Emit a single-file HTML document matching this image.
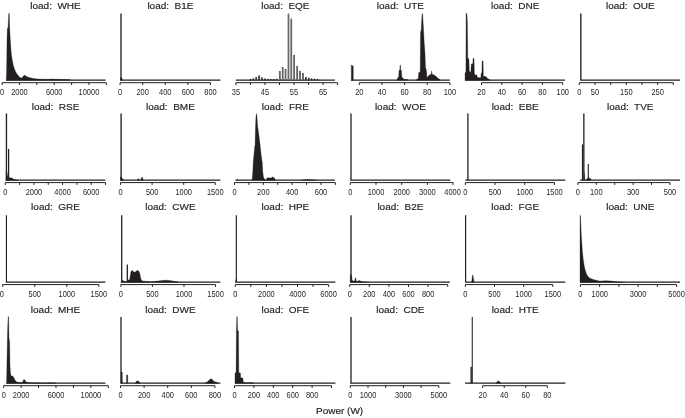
<!DOCTYPE html>
<html><head><meta charset="utf-8"><title>Load power histograms</title>
<style>
html,body{margin:0;padding:0;background:#fff;}
svg{display:block;}
text{font-family:"Liberation Sans",sans-serif;fill:#231f20;text-anchor:middle;}
.tt{white-space:pre;font-size:9.7px;stroke:#231f20;stroke-width:0.18px;}
.tl{font-size:8.2px;}
.ax{stroke:#231f20;stroke-width:1.0;fill:none;}
.bl{stroke:#231f20;fill:none;}
path.bl:not([stroke-width]){stroke-width:1.25;}
.hs{fill:#231f20;stroke:#231f20;stroke-width:0.3;stroke-linejoin:round;}
.sp{stroke:#231f20;fill:none;}
.bar{fill:#d0cfcf;stroke:#231f20;stroke-width:0.62;}
.sb{fill:#231f20;}
</style></head>
<body>
<svg width="685" height="418" viewBox="0 0 685 418">
<rect width="685" height="418" fill="#fff"/>
<text transform="translate(55.50 8.55) scale(1.03 1)" class="tt" xml:space="preserve">load:  WHE</text>
<path d="M6.20 80.10H105.60" class="bl"/>
<path d="M6.30 80.30L6.30 80.00L6.60 70.00L7.00 40.00L7.30 29.00L8.10 27.00L8.70 13.60L9.35 13.60L9.70 29.00L10.10 36.00L10.40 41.00L10.80 47.00L11.30 53.50L12.10 59.00L13.10 64.40L14.20 68.30L15.50 71.60L16.80 73.80L18.20 75.60L19.50 77.00L20.90 78.00L22.00 78.00L23.20 76.30L24.50 74.90L25.60 75.80L27.00 76.70L29.10 77.50L33.50 78.40L38.00 79.00L45.00 79.30L52.00 79.10L58.00 79.30L70.00 79.50L70.00 80.30Z" class="hs"/>
<path d="M2.10 82.70H106.32" class="ax"/>
<path d="M2.10 82.70v2.3M19.47 82.70v2.3M36.84 82.70v2.3M54.21 82.70v2.3M71.58 82.70v2.3M88.95 82.70v2.3M106.32 82.70v2.3" class="ax"/>
<text transform="translate(2.10 94.75) scale(0.91 1)" class="tl">0</text>
<text transform="translate(19.47 94.75) scale(0.91 1)" class="tl">2000</text>
<text transform="translate(54.21 94.75) scale(0.91 1)" class="tl">6000</text>
<text transform="translate(88.95 94.75) scale(0.91 1)" class="tl">10000</text>
<text transform="translate(170.40 8.55) scale(1.03 1)" class="tt" xml:space="preserve">load:  B1E</text>
<path d="M120.30 80.10H220.40" class="bl"/>
<path d="M121.00 13.50V80.30" stroke-width="1.35" class="sp"/>
<path d="M120.40 80.30L120.40 77.50L121.80 78.00L122.60 79.50L122.60 80.30Z" class="hs"/>
<path d="M120.05 82.70H210.45" class="ax"/>
<path d="M120.05 82.70v2.3M142.65 82.70v2.3M165.25 82.70v2.3M187.85 82.70v2.3M210.45 82.70v2.3" class="ax"/>
<text transform="translate(120.05 94.75) scale(0.91 1)" class="tl">0</text>
<text transform="translate(142.65 94.75) scale(0.91 1)" class="tl">200</text>
<text transform="translate(165.25 94.75) scale(0.91 1)" class="tl">400</text>
<text transform="translate(187.85 94.75) scale(0.91 1)" class="tl">600</text>
<text transform="translate(210.45 94.75) scale(0.91 1)" class="tl">800</text>
<text transform="translate(285.40 8.55) scale(1.03 1)" class="tt" xml:space="preserve">load:  EQE</text>
<path d="M235.90 80.10H334.90" class="bl"/>
<rect x="255.80" y="77.28" width="0.9" height="2.80" class="bar sb"/>
<rect x="258.70" y="75.78" width="0.9" height="4.30" class="bar sb"/>
<rect x="261.60" y="77.78" width="0.9" height="2.30" class="bar sb"/>
<rect x="264.50" y="78.88" width="0.9" height="1.20" class="bar sb"/>
<rect x="252.90" y="78.78" width="0.9" height="1.30" class="bar sb"/>
<rect x="250.00" y="79.28" width="0.9" height="0.80" class="bar sb"/>
<rect x="267.40" y="79.28" width="0.9" height="0.80" class="bar sb"/>
<rect x="270.30" y="79.28" width="0.9" height="0.80" class="bar sb"/>
<rect x="273.20" y="79.28" width="0.9" height="0.80" class="bar sb"/>
<rect x="276.20" y="79.08" width="0.9" height="1.00" class="bar sb"/>
<rect x="279.30" y="71.68" width="0.9" height="8.40" class="bar"/>
<rect x="282.20" y="67.38" width="0.9" height="12.70" class="bar"/>
<rect x="285.10" y="69.38" width="0.9" height="10.70" class="bar"/>
<rect x="288.05" y="13.98" width="0.9" height="66.10" class="bar"/>
<rect x="290.90" y="18.98" width="0.9" height="61.10" class="bar"/>
<rect x="293.80" y="55.58" width="0.9" height="24.50" class="bar"/>
<rect x="296.80" y="66.18" width="0.9" height="13.90" class="bar"/>
<rect x="299.60" y="71.18" width="0.9" height="8.90" class="bar"/>
<rect x="302.50" y="73.58" width="0.9" height="6.50" class="bar"/>
<rect x="305.40" y="77.38" width="0.9" height="2.70" class="bar sb"/>
<rect x="308.30" y="78.08" width="0.9" height="2.00" class="bar sb"/>
<rect x="311.20" y="78.78" width="0.9" height="1.30" class="bar sb"/>
<rect x="314.10" y="79.08" width="0.9" height="1.00" class="bar sb"/>
<rect x="317.00" y="79.28" width="0.9" height="0.80" class="bar sb"/>
<path d="M235.90 82.70H337.61" class="ax"/>
<path d="M235.90 82.70v2.3M250.43 82.70v2.3M264.96 82.70v2.3M279.49 82.70v2.3M294.02 82.70v2.3M308.55 82.70v2.3M323.08 82.70v2.3M337.61 82.70v2.3" class="ax"/>
<text transform="translate(235.90 94.75) scale(0.91 1)" class="tl">35</text>
<text transform="translate(264.96 94.75) scale(0.91 1)" class="tl">45</text>
<text transform="translate(294.02 94.75) scale(0.91 1)" class="tl">55</text>
<text transform="translate(323.08 94.75) scale(0.91 1)" class="tl">65</text>
<text transform="translate(400.40 8.55) scale(1.03 1)" class="tt" xml:space="preserve">load:  UTE</text>
<path d="M351.00 80.10H449.90" class="bl"/>
<path d="M351.30 80.30L351.30 65.20L352.00 65.00L352.80 65.90L353.30 66.40L353.30 80.30Z" class="hs"/>
<path d="M397.00 80.30L397.00 79.50L397.80 77.60L398.70 77.30L399.00 70.40L399.80 70.20L400.00 65.00L400.45 65.00L400.70 70.20L401.50 70.60L401.80 77.30L402.70 77.80L403.80 79.30L408.00 79.60L408.00 80.30Z" class="hs"/>
<path d="M416.50 80.30L416.50 79.60L418.20 78.50L418.70 72.40L420.20 72.20L420.50 32.00L421.20 30.00L421.80 18.00L422.10 13.70L422.60 13.70L423.00 20.00L423.50 29.00L424.10 40.70L425.00 53.50L425.50 67.50L426.50 70.50L426.90 77.50L428.00 76.50L429.00 75.20L430.50 74.40L431.30 74.20L431.50 71.20L431.90 71.20L432.10 74.30L433.50 74.70L435.00 75.50L436.50 76.80L438.20 78.60L440.00 79.60L440.00 80.30Z" class="hs"/>
<path d="M359.30 82.70H449.90" class="ax"/>
<path d="M359.30 82.70v2.3M381.95 82.70v2.3M404.60 82.70v2.3M427.25 82.70v2.3M449.90 82.70v2.3" class="ax"/>
<text transform="translate(359.30 94.75) scale(0.91 1)" class="tl">20</text>
<text transform="translate(381.95 94.75) scale(0.91 1)" class="tl">40</text>
<text transform="translate(404.60 94.75) scale(0.91 1)" class="tl">60</text>
<text transform="translate(427.25 94.75) scale(0.91 1)" class="tl">80</text>
<text transform="translate(449.90 94.75) scale(0.91 1)" class="tl">100</text>
<text transform="translate(515.20 8.55) scale(1.03 1)" class="tt" xml:space="preserve">load:  DNE</text>
<path d="M465.00 80.10H564.90" class="bl"/>
<path d="M465.00 80.30L465.00 73.00L465.90 72.00L466.10 13.50L466.90 13.50L467.40 22.00L467.80 58.50L468.90 58.70L469.30 71.00L470.80 72.50L471.30 64.00L472.80 63.70L473.10 58.30L474.00 58.30L474.40 74.00L475.40 75.50L476.00 74.50L476.80 75.00L477.50 77.50L480.80 77.80L481.20 73.00L481.90 73.00L482.10 60.90L483.10 60.90L483.40 76.50L485.00 76.20L486.50 77.00L487.50 78.50L489.50 79.40L489.50 80.30Z" class="hs"/>
<path d="M481.50 82.70H562.70" class="ax"/>
<path d="M481.50 82.70v2.3M501.80 82.70v2.3M522.10 82.70v2.3M542.40 82.70v2.3M562.70 82.70v2.3" class="ax"/>
<text transform="translate(481.50 94.75) scale(0.91 1)" class="tl">20</text>
<text transform="translate(501.80 94.75) scale(0.91 1)" class="tl">40</text>
<text transform="translate(522.10 94.75) scale(0.91 1)" class="tl">60</text>
<text transform="translate(542.40 94.75) scale(0.91 1)" class="tl">80</text>
<text transform="translate(562.70 94.75) scale(0.91 1)" class="tl">100</text>
<text transform="translate(630.30 8.55) scale(1.03 1)" class="tt" xml:space="preserve">load:  OUE</text>
<path d="M580.30 80.10H680.00" class="bl"/>
<path d="M580.85 13.50V80.30" stroke-width="1.35" class="sp"/>
<path d="M579.30 82.70H673.32" class="ax"/>
<path d="M579.30 82.70v2.3M594.97 82.70v2.3M610.64 82.70v2.3M626.31 82.70v2.3M641.98 82.70v2.3M657.65 82.70v2.3M673.32 82.70v2.3" class="ax"/>
<text transform="translate(579.30 94.75) scale(0.91 1)" class="tl">0</text>
<text transform="translate(594.97 94.75) scale(0.91 1)" class="tl">50</text>
<text transform="translate(626.31 94.75) scale(0.91 1)" class="tl">150</text>
<text transform="translate(657.65 94.75) scale(0.91 1)" class="tl">250</text>
<text transform="translate(55.50 110.00) scale(1.03 1)" class="tt" xml:space="preserve">load:  RSE</text>
<path d="M5.60 180.10H105.40" class="bl"/>
<path d="M6.45 113.50V180.30" stroke-width="1.35" class="sp"/>
<path d="M8.60 148.90V180.30" stroke-width="1.25" class="sp"/>
<path d="M6.00 180.30L6.00 170.30L7.10 172.30L7.60 176.30L8.30 176.80L9.20 177.70L11.50 177.90L12.60 178.30L13.50 179.30L16.00 179.80L18.00 180.00L18.00 180.30Z" class="hs"/>
<path d="M5.30 182.60H105.54" class="ax"/>
<path d="M5.30 182.60v2.3M19.62 182.60v2.3M33.94 182.60v2.3M48.26 182.60v2.3M62.58 182.60v2.3M76.90 182.60v2.3M91.22 182.60v2.3M105.54 182.60v2.3" class="ax"/>
<text transform="translate(5.30 194.90) scale(0.91 1)" class="tl">0</text>
<text transform="translate(33.94 194.90) scale(0.91 1)" class="tl">2000</text>
<text transform="translate(62.58 194.90) scale(0.91 1)" class="tl">4000</text>
<text transform="translate(91.22 194.90) scale(0.91 1)" class="tl">6000</text>
<text transform="translate(170.40 110.00) scale(1.03 1)" class="tt" xml:space="preserve">load:  BME</text>
<path d="M120.30 180.10H220.40" class="bl"/>
<path d="M121.10 113.50V180.30" stroke-width="1.35" class="sp"/>
<path d="M120.40 180.30L120.40 176.80L121.60 177.30L122.20 178.50L123.50 179.60L123.50 180.30Z" class="hs"/>
<path d="M137.60 180.30L137.60 179.70L138.20 178.70L138.80 178.80L139.40 179.70L139.40 180.30Z" class="hs"/>
<path d="M141.00 180.30L141.00 179.60L141.40 177.50L142.60 177.50L143.00 179.60L143.00 180.30Z" class="hs"/>
<path d="M120.55 182.60H215.26" class="ax"/>
<path d="M120.55 182.60v2.3M152.12 182.60v2.3M183.69 182.60v2.3M215.26 182.60v2.3" class="ax"/>
<text transform="translate(120.55 194.90) scale(0.91 1)" class="tl">0</text>
<text transform="translate(152.12 194.90) scale(0.91 1)" class="tl">500</text>
<text transform="translate(183.69 194.90) scale(0.91 1)" class="tl">1000</text>
<text transform="translate(215.26 194.90) scale(0.91 1)" class="tl">1500</text>
<text transform="translate(285.40 110.00) scale(1.03 1)" class="tt" xml:space="preserve">load:  FRE</text>
<path d="M235.50 180.10H334.90" class="bl"/>
<path d="M237.20 180.30L237.20 179.90L237.50 179.10L237.90 179.90L237.90 180.30Z" class="hs"/>
<path d="M251.80 180.30L251.80 179.90L252.30 178.30L252.80 171.90L253.20 162.80L254.00 153.80L254.80 146.30L255.10 144.70L255.40 130.04L255.80 118.98L256.10 116.04L256.30 113.70L256.70 113.70L257.10 118.47L257.70 126.39L259.20 137.30L260.10 144.70L261.00 153.80L262.30 162.80L262.80 171.90L263.50 177.30L264.20 178.60L265.20 179.80L265.20 180.30Z" class="hs"/>
<path d="M266.30 180.30L266.30 179.80L266.90 178.10L268.50 177.80L270.00 178.00L271.50 177.70L272.80 176.80L273.50 177.50L274.40 177.90L275.20 179.60L275.20 180.30Z" class="hs"/>
<path d="M302.00 180.30L302.00 180.10L305.00 179.80L308.00 179.60L312.00 179.80L316.00 180.10L316.00 180.30Z" class="hs"/>
<path d="M234.50 182.60H335.37" class="ax"/>
<path d="M234.50 182.60v2.3M248.91 182.60v2.3M263.32 182.60v2.3M277.73 182.60v2.3M292.14 182.60v2.3M306.55 182.60v2.3M320.96 182.60v2.3M335.37 182.60v2.3" class="ax"/>
<text transform="translate(234.50 194.90) scale(0.91 1)" class="tl">0</text>
<text transform="translate(263.32 194.90) scale(0.91 1)" class="tl">200</text>
<text transform="translate(292.14 194.90) scale(0.91 1)" class="tl">400</text>
<text transform="translate(320.96 194.90) scale(0.91 1)" class="tl">600</text>
<text transform="translate(400.40 110.00) scale(1.03 1)" class="tt" xml:space="preserve">load:  WOE</text>
<path d="M350.30 180.10H450.30" class="bl"/>
<path d="M351.00 113.50V180.30" stroke-width="1.3" class="sp"/>
<path d="M350.30 182.60H453.10" class="ax"/>
<path d="M350.30 182.60v2.3M376.00 182.60v2.3M401.70 182.60v2.3M427.40 182.60v2.3M453.10 182.60v2.3" class="ax"/>
<text transform="translate(350.30 194.90) scale(0.91 1)" class="tl">0</text>
<text transform="translate(376.00 194.90) scale(0.91 1)" class="tl">1000</text>
<text transform="translate(401.70 194.90) scale(0.91 1)" class="tl">2000</text>
<text transform="translate(427.40 194.90) scale(0.91 1)" class="tl">3000</text>
<text transform="translate(452.60 194.90) scale(0.91 1)" class="tl">4000</text>
<text transform="translate(515.20 110.00) scale(1.03 1)" class="tt" xml:space="preserve">load:  EBE</text>
<path d="M465.30 180.10H565.30" class="bl"/>
<path d="M467.90 113.50V180.30" stroke-width="1.3" class="sp"/>
<path d="M465.30 182.60H554.46" class="ax"/>
<path d="M465.30 182.60v2.3M495.02 182.60v2.3M524.74 182.60v2.3M554.46 182.60v2.3" class="ax"/>
<text transform="translate(465.30 194.90) scale(0.91 1)" class="tl">0</text>
<text transform="translate(495.02 194.90) scale(0.91 1)" class="tl">500</text>
<text transform="translate(524.74 194.90) scale(0.91 1)" class="tl">1000</text>
<text transform="translate(554.46 194.90) scale(0.91 1)" class="tl">1500</text>
<text transform="translate(630.30 110.00) scale(1.03 1)" class="tt" xml:space="preserve">load:  TVE</text>
<path d="M580.10 180.10H680.00" class="bl"/>
<path d="M582.55 144.40V180.30" stroke-width="1.3" class="sp"/>
<path d="M583.85 113.50V180.30" stroke-width="1.3" class="sp"/>
<path d="M588.30 164.00V180.30" stroke-width="1.1" class="sp"/>
<path d="M586.60 180.30L586.60 179.90L587.20 178.20L590.50 178.20L591.00 179.90L591.00 180.30Z" class="hs"/>
<path d="M584.30 180.30L584.30 172.30L584.90 178.30L584.90 180.30Z" class="hs"/>
<path d="M577.90 182.60H670.00" class="ax"/>
<path d="M577.90 182.60v2.3M596.32 182.60v2.3M614.74 182.60v2.3M633.16 182.60v2.3M651.58 182.60v2.3M670.00 182.60v2.3" class="ax"/>
<text transform="translate(577.90 194.90) scale(0.91 1)" class="tl">0</text>
<text transform="translate(596.32 194.90) scale(0.91 1)" class="tl">100</text>
<text transform="translate(633.16 194.90) scale(0.91 1)" class="tl">300</text>
<text transform="translate(670.00 194.90) scale(0.91 1)" class="tl">500</text>
<text transform="translate(55.50 210.35) scale(1.03 1)" class="tt" xml:space="preserve">load:  GRE</text>
<path d="M5.90 282.10H105.40" class="bl"/>
<path d="M6.45 215.30V282.30" stroke-width="1.15" class="sp"/>
<path d="M2.70 284.60H98.85" class="ax"/>
<path d="M2.70 284.60v2.3M34.75 284.60v2.3M66.80 284.60v2.3M98.85 284.60v2.3" class="ax"/>
<text transform="translate(1.70 296.65) scale(0.91 1)" class="tl">0</text>
<text transform="translate(34.75 296.65) scale(0.91 1)" class="tl">500</text>
<text transform="translate(66.80 296.65) scale(0.91 1)" class="tl">1000</text>
<text transform="translate(98.85 296.65) scale(0.91 1)" class="tl">1500</text>
<text transform="translate(170.40 210.35) scale(1.03 1)" class="tt" xml:space="preserve">load:  CWE</text>
<path d="M120.80 282.10H220.40" class="bl"/>
<path d="M121.70 215.30V282.30" stroke-width="1.3" class="sp"/>
<path d="M127.30 264.50V282.30" stroke-width="1.3" class="sp"/>
<path d="M122.30 282.30L122.30 279.90L124.00 281.20L126.50 281.40L126.50 282.30Z" class="hs"/>
<path d="M128.00 282.30L128.00 280.00L129.60 279.70L130.30 275.40L130.90 271.90L131.60 270.70L132.40 270.50L133.30 271.60L134.50 272.30L135.80 271.60L136.80 270.70L137.50 270.30L138.30 270.70L139.40 271.90L140.10 274.90L140.80 278.60L141.60 280.20L142.60 280.90L146.00 281.40L150.00 281.60L150.00 282.30Z" class="hs"/>
<path d="M151.00 282.30L151.00 281.70L156.00 281.20L160.00 280.70L164.00 280.30L166.50 280.25L170.00 280.60L174.00 281.30L178.00 281.80L178.00 282.30Z" class="hs"/>
<path d="M120.85 284.60H215.56" class="ax"/>
<path d="M120.85 284.60v2.3M152.42 284.60v2.3M183.99 284.60v2.3M215.56 284.60v2.3" class="ax"/>
<text transform="translate(120.85 296.65) scale(0.91 1)" class="tl">0</text>
<text transform="translate(152.42 296.65) scale(0.91 1)" class="tl">500</text>
<text transform="translate(183.99 296.65) scale(0.91 1)" class="tl">1000</text>
<text transform="translate(215.56 296.65) scale(0.91 1)" class="tl">1500</text>
<text transform="translate(285.40 210.35) scale(1.03 1)" class="tt" xml:space="preserve">load:  HPE</text>
<path d="M235.40 282.10H335.30" class="bl"/>
<path d="M236.35 215.30V282.30" stroke-width="1.15" class="sp"/>
<path d="M235.70 282.30L235.70 279.70L236.40 279.70L236.40 282.30Z" class="hs"/>
<path d="M235.30 284.60H328.60" class="ax"/>
<path d="M235.30 284.60v2.3M250.85 284.60v2.3M266.40 284.60v2.3M281.95 284.60v2.3M297.50 284.60v2.3M313.05 284.60v2.3M328.60 284.60v2.3" class="ax"/>
<text transform="translate(235.30 296.65) scale(0.91 1)" class="tl">0</text>
<text transform="translate(266.40 296.65) scale(0.91 1)" class="tl">2000</text>
<text transform="translate(297.50 296.65) scale(0.91 1)" class="tl">4000</text>
<text transform="translate(328.60 296.65) scale(0.91 1)" class="tl">6000</text>
<text transform="translate(400.40 210.35) scale(1.03 1)" class="tt" xml:space="preserve">load:  B2E</text>
<path d="M350.20 282.10H449.90" class="bl"/>
<path d="M351.00 215.30V282.30" stroke-width="1.35" class="sp"/>
<path d="M350.30 282.30L350.30 274.40L351.60 275.40L352.00 279.40L353.00 280.90L354.80 281.00L355.10 278.10L355.80 278.10L356.10 281.00L358.30 281.20L359.00 280.40L360.00 280.60L361.00 281.50L365.00 281.90L369.00 282.20L369.00 282.30Z" class="hs"/>
<path d="M349.70 284.60H447.70" class="ax"/>
<path d="M349.70 284.60v2.3M369.30 284.60v2.3M388.90 284.60v2.3M408.50 284.60v2.3M428.10 284.60v2.3M447.70 284.60v2.3" class="ax"/>
<text transform="translate(349.70 296.65) scale(0.91 1)" class="tl">0</text>
<text transform="translate(369.30 296.65) scale(0.91 1)" class="tl">200</text>
<text transform="translate(388.90 296.65) scale(0.91 1)" class="tl">400</text>
<text transform="translate(408.50 296.65) scale(0.91 1)" class="tl">600</text>
<text transform="translate(428.10 296.65) scale(0.91 1)" class="tl">800</text>
<text transform="translate(515.20 210.35) scale(1.03 1)" class="tt" xml:space="preserve">load:  FGE</text>
<path d="M465.20 282.10H565.30" class="bl"/>
<path d="M465.60 215.30V282.30" stroke-width="1.2" class="sp"/>
<path d="M471.70 282.30L471.70 281.40L472.20 277.40L472.55 275.00L472.95 275.00L473.40 277.90L474.00 281.40L474.00 282.30Z" class="hs"/>
<path d="M465.30 284.60H552.81" class="ax"/>
<path d="M465.30 284.60v2.3M494.47 284.60v2.3M523.64 284.60v2.3M552.81 284.60v2.3" class="ax"/>
<text transform="translate(465.30 296.65) scale(0.91 1)" class="tl">0</text>
<text transform="translate(494.47 296.65) scale(0.91 1)" class="tl">500</text>
<text transform="translate(523.64 296.65) scale(0.91 1)" class="tl">1000</text>
<text transform="translate(552.81 296.65) scale(0.91 1)" class="tl">1500</text>
<text transform="translate(630.30 210.35) scale(1.03 1)" class="tt" xml:space="preserve">load:  UNE</text>
<path d="M580.00 282.10H680.00" class="bl"/>
<path d="M580.00 282.30L580.00 215.61L580.45 215.40L580.95 227.03L581.40 236.40L581.90 244.00L582.50 252.40L583.20 258.80L584.00 264.40L584.90 268.90L586.10 272.90L587.50 275.80L589.50 278.00L592.50 279.30L596.00 280.20L599.40 280.90L602.00 281.10L604.00 280.75L607.00 280.65L610.30 280.90L615.00 281.50L620.40 282.00L625.00 282.30L625.00 282.30Z" class="hs"/>
<path d="M580.40 284.60H676.60" class="ax"/>
<path d="M580.40 284.60v2.3M599.64 284.60v2.3M618.88 284.60v2.3M638.12 284.60v2.3M657.36 284.60v2.3M676.60 284.60v2.3" class="ax"/>
<text transform="translate(580.40 296.65) scale(0.91 1)" class="tl">0</text>
<text transform="translate(599.64 296.65) scale(0.91 1)" class="tl">1000</text>
<text transform="translate(638.12 296.65) scale(0.91 1)" class="tl">3000</text>
<text transform="translate(676.60 296.65) scale(0.91 1)" class="tl">5000</text>
<text transform="translate(55.50 312.65) scale(1.03 1)" class="tt" xml:space="preserve">load:  MHE</text>
<path d="M6.20 383.15H105.40" class="bl"/>
<path d="M6.60 383.35L6.60 382.15L6.90 365.15L7.50 333.12L8.10 316.70L8.60 316.70L9.00 338.15L9.60 341.15L10.00 365.15L10.40 371.95L10.90 375.75L12.30 375.95L13.30 376.65L14.30 378.65L15.50 380.65L16.80 382.05L19.00 382.55L22.50 382.35L23.20 380.65L24.00 379.15L24.80 379.95L25.80 381.85L28.00 382.45L33.00 382.85L45.00 382.95L50.00 382.75L56.00 383.05L56.00 383.35Z" class="hs"/>
<path d="M3.70 385.70H108.28" class="ax"/>
<path d="M3.70 385.70v2.3M21.13 385.70v2.3M38.56 385.70v2.3M55.99 385.70v2.3M73.42 385.70v2.3M90.85 385.70v2.3M108.28 385.70v2.3" class="ax"/>
<text transform="translate(3.70 398.20) scale(0.91 1)" class="tl">0</text>
<text transform="translate(21.13 398.20) scale(0.91 1)" class="tl">2000</text>
<text transform="translate(55.99 398.20) scale(0.91 1)" class="tl">6000</text>
<text transform="translate(90.85 398.20) scale(0.91 1)" class="tl">10000</text>
<text transform="translate(170.40 312.65) scale(1.03 1)" class="tt" xml:space="preserve">load:  DWE</text>
<path d="M120.40 383.15H220.40" class="bl"/>
<path d="M121.00 316.90V383.35" stroke-width="1.3" class="sp"/>
<path d="M121.00 383.35L121.00 371.95L122.25 371.95L122.40 382.65L122.40 383.35Z" class="hs"/>
<path d="M126.50 383.35L126.50 374.95L127.80 374.95L127.80 383.35Z" class="hs"/>
<path d="M135.50 383.35L135.50 382.65L136.50 381.35L137.50 380.65L138.60 381.15L140.00 382.65L140.00 383.35Z" class="hs"/>
<path d="M205.00 383.35L205.00 382.85L207.00 381.95L208.50 380.85L210.00 379.25L211.00 378.65L212.00 379.15L213.50 380.95L215.50 381.95L218.00 382.65L218.00 383.35Z" class="hs"/>
<path d="M120.50 385.70H214.90" class="ax"/>
<path d="M120.50 385.70v2.3M144.10 385.70v2.3M167.70 385.70v2.3M191.30 385.70v2.3M214.90 385.70v2.3" class="ax"/>
<text transform="translate(120.50 398.20) scale(0.91 1)" class="tl">0</text>
<text transform="translate(144.10 398.20) scale(0.91 1)" class="tl">200</text>
<text transform="translate(167.70 398.20) scale(0.91 1)" class="tl">400</text>
<text transform="translate(191.30 398.20) scale(0.91 1)" class="tl">600</text>
<text transform="translate(214.90 398.20) scale(0.91 1)" class="tl">800</text>
<text transform="translate(285.40 312.65) scale(1.03 1)" class="tt" xml:space="preserve">load:  OFE</text>
<path d="M234.90 383.15H335.40" class="bl"/>
<path d="M235.00 383.35L235.00 372.95L236.10 372.55L236.40 330.10L236.80 316.70L237.30 316.70L237.60 330.10L238.50 331.11L238.80 372.55L240.40 372.95L240.70 377.65L242.90 377.95L243.20 381.95L245.50 382.85L248.00 382.75L251.00 382.45L254.00 382.95L254.00 383.35Z" class="hs"/>
<path d="M234.50 385.70H331.50" class="ax"/>
<path d="M234.50 385.70v2.3M253.90 385.70v2.3M273.30 385.70v2.3M292.70 385.70v2.3M312.10 385.70v2.3M331.50 385.70v2.3" class="ax"/>
<text transform="translate(234.50 398.20) scale(0.91 1)" class="tl">0</text>
<text transform="translate(253.90 398.20) scale(0.91 1)" class="tl">200</text>
<text transform="translate(273.30 398.20) scale(0.91 1)" class="tl">400</text>
<text transform="translate(292.70 398.20) scale(0.91 1)" class="tl">600</text>
<text transform="translate(312.10 398.20) scale(0.91 1)" class="tl">800</text>
<text transform="translate(400.40 312.65) scale(1.03 1)" class="tt" xml:space="preserve">load:  CDE</text>
<path d="M350.30 383.15H450.30" class="bl"/>
<path d="M351.00 316.90V383.35" stroke-width="1.3" class="sp"/>
<path d="M350.30 385.70H438.80" class="ax"/>
<path d="M350.30 385.70v2.3M368.00 385.70v2.3M385.70 385.70v2.3M403.40 385.70v2.3M421.10 385.70v2.3M438.80 385.70v2.3" class="ax"/>
<text transform="translate(350.30 398.20) scale(0.91 1)" class="tl">0</text>
<text transform="translate(368.00 398.20) scale(0.91 1)" class="tl">1000</text>
<text transform="translate(403.40 398.20) scale(0.91 1)" class="tl">3000</text>
<text transform="translate(438.80 398.20) scale(0.91 1)" class="tl">5000</text>
<text transform="translate(515.20 312.65) scale(1.03 1)" class="tt" xml:space="preserve">load:  HTE</text>
<path d="M465.00 383.15H565.40" class="bl" stroke-width="1.1"/>
<path d="M472.25 316.90V383.35" stroke-width="1.05" class="sp"/>
<path d="M470.65 383.35L470.65 366.95L471.80 366.95L471.80 383.35Z" class="hs"/>
<path d="M496.00 383.35L496.00 382.85L497.30 381.95L498.10 380.75L498.60 380.75L499.40 381.85L500.90 382.85L500.90 383.35Z" class="hs"/>
<path d="M482.70 385.70H547.29" class="ax"/>
<path d="M482.70 385.70v2.3M504.23 385.70v2.3M525.76 385.70v2.3M547.29 385.70v2.3" class="ax"/>
<text transform="translate(482.70 398.20) scale(0.91 1)" class="tl">20</text>
<text transform="translate(504.23 398.20) scale(0.91 1)" class="tl">40</text>
<text transform="translate(525.76 398.20) scale(0.91 1)" class="tl">60</text>
<text transform="translate(547.29 398.20) scale(0.91 1)" class="tl">80</text>
<text transform="translate(339.6 414.3) scale(1.03 1)" class="tt">Power (W)</text>
</svg>
</body></html>
